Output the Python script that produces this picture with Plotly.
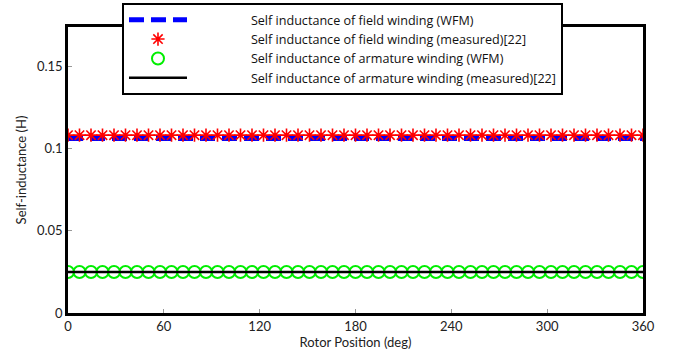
import plotly.graph_objects as go

# Rotor position samples (deg)
rotor_position = [0, 7.2, 14.4, 21.6, 28.8, 36, 43.2, 50.4, 57.6, 64.8,
                  72, 79.2, 86.4, 93.6, 100.8, 108, 115.2, 122.4, 129.6, 136.8,
                  144, 151.2, 158.4, 165.6, 172.8, 180, 187.2, 194.4, 201.6, 208.8,
                  216, 223.2, 230.4, 237.6, 244.8, 252, 259.2, 266.4, 273.6, 280.8,
                  288, 295.2, 302.4, 309.6, 316.8, 324, 331.2, 338.4, 345.6, 352.8, 360]

# Self-inductance values (H), constant over rotor position
field_wfm = [0.1060] * len(rotor_position)
field_measured = [0.1080] * len(rotor_position)
armature_wfm = [0.0249] * len(rotor_position)
armature_measured = [0.0249] * len(rotor_position)

series_names = [
    "Self inductance of field winding (WFM)",
    "Self inductance of field winding (measured)[22]",
    "Self inductance of armature winding (WFM)",
    "Self inductance of armature winding (measured)[22]",
]

x_ticks = [0, 60, 120, 180, 240, 300, 360]
y_ticks = [0, 0.05, 0.1, 0.15]
y_tick_text = ["0", "0.05", "0.1", "0.15"]

PAD = "\u00a0" * 18  # gap between legend symbol and legend text

fig = go.Figure()

fig.add_trace(go.Scatter(
    x=rotor_position, y=field_wfm, mode="lines", name=PAD + series_names[0],
    line=dict(color="#0000ff", width=5, dash="15px,7px"),
))
fig.add_trace(go.Scatter(
    x=rotor_position, y=field_measured, mode="lines", showlegend=False,
    line=dict(color="#ff0000", width=1.5), hoverinfo="skip",
))
fig.add_trace(go.Scatter(
    x=rotor_position, y=field_measured, mode="markers", name=PAD + series_names[1],
    marker=dict(symbol="asterisk-open", size=11, color="#ff0000",
                line=dict(color="#ff0000", width=1.6)),
))
fig.add_trace(go.Scatter(
    x=rotor_position, y=armature_wfm, mode="markers", name=PAD + series_names[2],
    marker=dict(symbol="circle-open", size=12, color="#00ee00",
                line=dict(color="#00ee00", width=2)),
))
fig.add_trace(go.Scatter(
    x=rotor_position, y=armature_measured, mode="lines", name=PAD + series_names[3],
    line=dict(color="#000000", width=2.5),
))

family = "Lato, 'Open Sans', sans-serif"
axis_font = dict(family=family, size=13, color="#222222")

fig.update_layout(
    width=676, height=355,
    margin=dict(l=68, r=33, t=27, b=42, autoexpand=False),
    paper_bgcolor="white", plot_bgcolor="white",
    font=dict(family=family, size=13, color="#222222"),
    showlegend=True,
    legend=dict(
        x=0.0939, y=1.0839, xanchor="left", yanchor="top",
        bgcolor="white", bordercolor="black", borderwidth=2,
        font=dict(family="'Open Sans', sans-serif", size=12.6, color="#111111"),
        itemwidth=58, tracegroupgap=0,
    ),
    xaxis=dict(
        range=[0, 360], tickvals=x_ticks,
        showgrid=False, zeroline=False,
        showline=True, linecolor="black", linewidth=2.5, mirror=True,
        ticks="inside", ticklen=4, tickcolor="#999999", tickwidth=1,
        tickfont=axis_font,
        title=dict(text="Rotor Position (deg)", font=dict(family=family, size=13, color="#222222"), standoff=4),
    ),
    yaxis=dict(
        range=[0, 0.1737], tickvals=y_ticks, ticktext=y_tick_text,
        showgrid=False, zeroline=False,
        showline=True, linecolor="black", linewidth=2.5, mirror=True,
        ticks="inside", ticklen=4, tickcolor="#999999", tickwidth=1,
        tickfont=axis_font,
        title=dict(text="Self-inductance (H)", font=dict(family=family, size=13, color="#222222"), standoff=8),
    ),
)

fig.write_html("out.html")
